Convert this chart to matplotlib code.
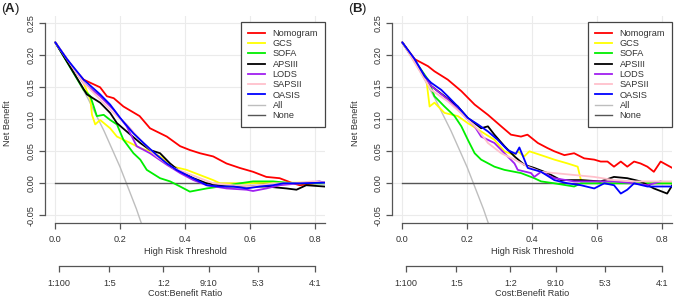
import numpy as np
import matplotlib
matplotlib.use("Agg")
import matplotlib.pyplot as plt

plt.rcParams['font.family'] = ['Liberation Sans', 'DejaVu Sans']

names = ["Nomogram", "GCS", "SOFA", "APSIII", "LODS", "SAPSII", "OASIS", "All", "None"]
colors = ["#FF0000", "#FFFF00", "#00EE00", "#000000", "#A020F0", "#FFC0CB", "#0000FF", "#BEBEBE", "#555555"]

# ---- panel A ----
a_nomo_x = [0, 0.036, 0.087, 0.138, 0.159, 0.18, 0.21, 0.26, 0.292, 0.344, 0.385, 0.415, 0.446, 0.487, 0.528, 0.569, 0.61, 0.651, 0.692, 0.733, 0.754, 0.8, 0.83]
a_nomo_y = [0.22, 0.191, 0.162, 0.150, 0.136, 0.133, 0.12, 0.105, 0.086, 0.073, 0.058, 0.052, 0.047, 0.042, 0.031, 0.024, 0.018, 0.010, 0.008, 0.0, -0.003, 0.0, 0.001]
a_gcs_x = [0, 0.087, 0.108, 0.113, 0.123, 0.138, 0.169, 0.19, 0.231, 0.262, 0.292, 0.323, 0.364, 0.405, 0.446, 0.487, 0.508, 0.59, 0.651, 0.83]
a_gcs_y = [0.22, 0.157, 0.131, 0.107, 0.092, 0.099, 0.086, 0.073, 0.063, 0.055, 0.05, 0.042, 0.026, 0.021, 0.013, 0.005, 0.0, 0.0, 0.001, 0.001]
a_sofa_x = [0, 0.087, 0.108, 0.128, 0.149, 0.169, 0.19, 0.21, 0.241, 0.262, 0.282, 0.323, 0.354, 0.385, 0.415, 0.446, 0.467, 0.508, 0.569, 0.61, 0.672, 0.733, 0.83]
a_sofa_y = [0.22, 0.146, 0.136, 0.105, 0.107, 0.099, 0.092, 0.068, 0.047, 0.037, 0.021, 0.008, 0.003, -0.005, -0.013, -0.010, -0.008, -0.005, 0.0, 0.003, 0.003, 0.0, 0.0]
a_aps_x = [0, 0.097, 0.138, 0.169, 0.19, 0.22, 0.262, 0.292, 0.323, 0.354, 0.385, 0.426, 0.467, 0.528, 0.59, 0.651, 0.713, 0.744, 0.774, 0.83]
a_aps_y = [0.22, 0.139, 0.126, 0.11, 0.094, 0.081, 0.063, 0.052, 0.047, 0.031, 0.018, 0.008, 0.0, -0.005, -0.005, -0.005, -0.008, -0.010, -0.003, -0.005]
a_lods_x = [0, 0.087, 0.138, 0.18, 0.22, 0.251, 0.292, 0.344, 0.385, 0.426, 0.467, 0.528, 0.59, 0.61, 0.651, 0.692, 0.754, 0.815, 0.83]
a_lods_y = [0.22, 0.157, 0.136, 0.115, 0.089, 0.058, 0.047, 0.029, 0.016, 0.005, -0.003, -0.008, -0.010, -0.012, -0.008, -0.003, 0.0, 0.003, 0.001]
a_saps_x = [0, 0.087, 0.138, 0.19, 0.22, 0.262, 0.313, 0.364, 0.405, 0.446, 0.487, 0.549, 0.61, 0.672, 0.733, 0.795, 0.83]
a_saps_y = [0.22, 0.157, 0.131, 0.105, 0.092, 0.068, 0.042, 0.024, 0.016, 0.008, 0.0, -0.003, -0.005, 0.0, 0.0, 0.003, 0.001]
a_oasis_x = [0, 0.036, 0.087, 0.138, 0.169, 0.2, 0.241, 0.272, 0.313, 0.344, 0.374, 0.405, 0.436, 0.467, 0.508, 0.549, 0.59, 0.631, 0.672, 0.703, 0.754, 0.83]
a_oasis_y = [0.22, 0.194, 0.162, 0.139, 0.123, 0.102, 0.078, 0.063, 0.044, 0.031, 0.021, 0.013, 0.005, -0.003, -0.005, -0.005, -0.008, -0.005, -0.003, 0.0, 0.0, 0.001]

# ---- panel B ----
b_nomo_x = [0, 0.038, 0.079, 0.099, 0.14, 0.182, 0.223, 0.264, 0.305, 0.335, 0.366, 0.386, 0.418, 0.448, 0.469, 0.5, 0.53, 0.561, 0.592, 0.612, 0.633, 0.653, 0.674, 0.694, 0.715, 0.735, 0.756, 0.776, 0.797, 0.833]
b_nomo_y = [0.22, 0.194, 0.183, 0.175, 0.162, 0.144, 0.123, 0.107, 0.089, 0.076, 0.073, 0.076, 0.063, 0.055, 0.05, 0.044, 0.047, 0.039, 0.037, 0.034, 0.034, 0.026, 0.034, 0.026, 0.034, 0.031, 0.026, 0.018, 0.034, 0.024]
b_gcs_x = [0, 0.074, 0.084, 0.099, 0.13, 0.171, 0.202, 0.243, 0.284, 0.315, 0.346, 0.356, 0.376, 0.392, 0.428, 0.469, 0.51, 0.541, 0.551, 0.592, 0.653, 0.715, 0.833]
b_gcs_y = [0.22, 0.162, 0.12, 0.126, 0.11, 0.105, 0.094, 0.081, 0.068, 0.05, 0.044, 0.05, 0.042, 0.05, 0.044, 0.037, 0.031, 0.026, 0.005, 0.003, 0.003, 0.0, 0.0]
b_sofa_x = [0, 0.079, 0.099, 0.13, 0.161, 0.182, 0.202, 0.223, 0.243, 0.284, 0.315, 0.366, 0.407, 0.428, 0.469, 0.53, 0.551, 0.612, 0.833]
b_sofa_y = [0.22, 0.162, 0.136, 0.12, 0.105, 0.089, 0.068, 0.047, 0.037, 0.026, 0.021, 0.016, 0.008, 0.003, 0.0, -0.005, 0.0, 0.0, 0.0]
b_aps_x = [0, 0.089, 0.13, 0.171, 0.202, 0.223, 0.243, 0.264, 0.284, 0.315, 0.346, 0.376, 0.407, 0.448, 0.489, 0.551, 0.612, 0.653, 0.694, 0.735, 0.776, 0.817, 0.833]
b_aps_y = [0.22, 0.152, 0.136, 0.12, 0.102, 0.094, 0.086, 0.089, 0.076, 0.058, 0.042, 0.029, 0.024, 0.016, 0.005, 0.005, 0.003, 0.010, 0.008, 0.003, -0.008, -0.016, -0.003]
b_lods_x = [0, 0.089, 0.14, 0.182, 0.223, 0.243, 0.284, 0.315, 0.346, 0.356, 0.397, 0.407, 0.428, 0.469, 0.53, 0.592, 0.653, 0.715, 0.756, 0.797]
b_lods_y = [0.22, 0.152, 0.131, 0.11, 0.089, 0.073, 0.063, 0.047, 0.031, 0.021, 0.016, 0.01, 0.018, 0.008, 0.003, 0.003, 0.003, 0.0, -0.003, 0.003]
b_saps_x = [0, 0.089, 0.14, 0.192, 0.233, 0.264, 0.305, 0.346, 0.387, 0.428, 0.469, 0.53, 0.592, 0.653, 0.715, 0.776, 0.833]
b_saps_y = [0.22, 0.146, 0.128, 0.105, 0.084, 0.063, 0.047, 0.037, 0.026, 0.018, 0.016, 0.013, 0.010, 0.005, 0.003, 0.003, 0.003]
b_oasis_x = [0, 0.038, 0.069, 0.089, 0.12, 0.14, 0.171, 0.202, 0.233, 0.264, 0.294, 0.325, 0.35, 0.361, 0.387, 0.428, 0.469, 0.51, 0.551, 0.592, 0.623, 0.653, 0.674, 0.694, 0.715, 0.756, 0.797, 0.833]
b_oasis_y = [0.22, 0.194, 0.167, 0.157, 0.146, 0.136, 0.12, 0.102, 0.092, 0.081, 0.068, 0.052, 0.046, 0.056, 0.024, 0.018, 0.005, 0.0, -0.003, -0.008, 0.0, -0.003, -0.016, -0.01, 0.0, -0.005, -0.005, -0.005]

# treat all / treat none (same in both panels)
all_x = [0, 0.05, 0.1, 0.15, 0.2, 0.25, 0.265]
all_y = [0.22, 0.179, 0.133, 0.082, 0.025, -0.04, -0.062]
none_x = [0, 0.832]
none_y = [0, 0]

# cost:benefit axis
cb_pos = [1/101, 1/6, 1/3, 9/19, 5/8, 0.8]
cb_labels = ["1:100", "1:5", "1:2", "9:10", "5:3", "4:1"]

xticks = [0.0, 0.2, 0.4, 0.6, 0.8]
yticks = [-0.05, 0.0, 0.05, 0.10, 0.15, 0.20, 0.25]

panel_a = [(a_nomo_x, a_nomo_y), (a_gcs_x, a_gcs_y), (a_sofa_x, a_sofa_y), (a_aps_x, a_aps_y),
           (a_lods_x, a_lods_y), (a_saps_x, a_saps_y), (a_oasis_x, a_oasis_y), (all_x, all_y), (none_x, none_y)]
panel_b = [(b_nomo_x, b_nomo_y), (b_gcs_x, b_gcs_y), (b_sofa_x, b_sofa_y), (b_aps_x, b_aps_y),
           (b_lods_x, b_lods_y), (b_saps_x, b_saps_y), (b_oasis_x, b_oasis_y), (all_x, all_y), (none_x, none_y)]

W, H = 694, 300
fs = 6.6
txt = "#333333"
axc = "#555555"

fig = plt.figure(figsize=(W/100, H/100), dpi=100)

def draw_panel(left_px, series, tag):
    ax = fig.add_axes([left_px/W, (H-223)/H, 280/W, (223-15.6)/H])
    ax.set_xlim(-0.032, 0.832)
    ax.set_ylim(-0.062, 0.262)
    for xv in xticks:
        ax.axvline(xv, color="#EBEBEB", lw=0.8, zorder=0)
    for yv in yticks:
        ax.axhline(yv, color="#EBEBEB", lw=0.8, zorder=0)
    order = [7, 8, 0, 1, 2, 3, 4, 5, 6]
    lines = {}
    for i in order:
        xs, ys = series[i]
        lw = 1.0 if i >= 7 else 1.3
        ln, = ax.plot(xs, ys, color=colors[i], lw=lw, label=names[i], zorder=2)
        lines[i] = ln
    for s in ["top", "right"]:
        ax.spines[s].set_visible(False)
    ax.spines["left"].set_bounds(-0.05, 0.25)
    ax.spines["bottom"].set_bounds(0, 0.832)
    for s in ["left", "bottom"]:
        ax.spines[s].set_color(axc)
        ax.spines[s].set_linewidth(0.9)
    ax.set_xticks(xticks)
    ax.set_xticklabels(["0.0", "0.2", "0.4", "0.6", "0.8"])
    ax.set_yticks(yticks)
    ax.set_yticklabels(["-0.05", "0.00", "0.05", "0.10", "0.15", "0.20", "0.25"])
    ax.tick_params(axis="both", colors=axc, labelcolor=txt, labelsize=fs, length=4, width=0.9)
    ax.tick_params(axis="x", pad=5)
    ax.tick_params(axis="y", pad=3, labelrotation=90)
    for lab in ax.get_yticklabels():
        lab.set_va("center")
    leg = ax.legend([lines[i] for i in range(9)], names, loc="upper right",
                    bbox_to_anchor=(1.0, 0.969), borderaxespad=0, fontsize=fs,
                    frameon=True, fancybox=False, framealpha=1, edgecolor="#444444",
                    handlelength=1.9, handletextpad=0.8, labelspacing=0.14, borderpad=0.75)
    leg.get_frame().set_linewidth(0.9)
    for t in leg.get_texts():
        t.set_color(txt)

    # cost:benefit axis
    cb = fig.add_axes([left_px/W, (H-266)/H, 280/W, 0.001])
    cb.set_xlim(-0.032, 0.832)
    cb.patch.set_visible(False)
    for s in ["top", "right", "left"]:
        cb.spines[s].set_visible(False)
    cb.spines["bottom"].set_bounds(cb_pos[0], cb_pos[-1])
    cb.spines["bottom"].set_color(axc)
    cb.spines["bottom"].set_linewidth(0.9)
    cb.set_yticks([])
    cb.set_xticks(cb_pos)
    cb.set_xticklabels(cb_labels)
    cb.tick_params(axis="x", colors=axc, labelcolor=txt, labelsize=fs, length=4, width=0.9, pad=5)

    cx = (left_px + 140) / W
    fig.text(cx, (H-252)/H, "High Risk Threshold", ha="center", va="center", fontsize=fs, color=txt)
    fig.text(cx, (H-294)/H, "Cost:Benefit Ratio", ha="center", va="center", fontsize=fs, color=txt)
    fig.text((left_px-37)/W, (H-123)/H, "Net Benefit", ha="center", va="center", rotation=90, fontsize=fs, color=txt)

    x0 = left_px - 44
    fig.text(x0/W, (H-9)/H, "(", ha="left", va="center", fontsize=9.5, color="#222222")
    fig.text((x0+4)/W, (H-9)/H, tag, ha="left", va="center", fontsize=9.5, fontweight="bold", color="#222222")
    fig.text((x0+14)/W, (H-9)/H, ")", ha="left", va="center", fontsize=9.5, color="#222222")
    return ax

draw_panel(45, panel_a, "A")
draw_panel(392, panel_b, "B")

fig.savefig("out.png", dpi=100)
